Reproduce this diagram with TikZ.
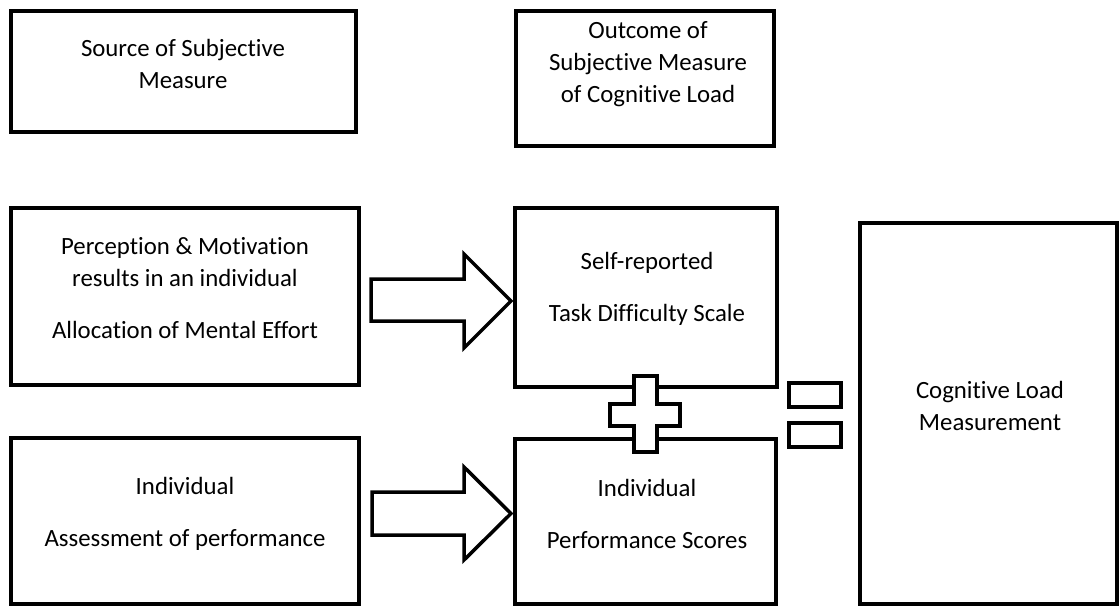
\documentclass[tikz,border=0pt]{standalone}
\usepackage{fontspec}
\setmainfont{Carlito}[Ligatures=NoCommon]
\begin{document}
\begin{tikzpicture}[x=1pt,y=-1pt,
  box/.style={draw=black,line width=3.5pt,fill=white,rectangle,inner sep=0pt,outer sep=0pt},
  label/.style={align=center,inner sep=0pt,font=\fontsize{24.8}{32}\selectfont},
  blockarrow/.style={draw=black,line width=3.5pt,fill=white,line join=miter}]
\useasboundingbox (0,0) rectangle (1119,608);

% boxes
\node[box,minimum width=345pt,minimum height=121pt] (src)   at (183.5,71.5) {};
\node[box,minimum width=258pt,minimum height=135pt] (out)   at (645,78.5) {};
\node[box,minimum width=348pt,minimum height=177pt] (perc)  at (185,296.5) {};
\node[box,minimum width=262pt,minimum height=179pt] (self)  at (646,297.5) {};
\node[box,minimum width=348pt,minimum height=166pt] (indiv) at (185,521) {};
\node[box,minimum width=261pt,minimum height=165pt] (perf)  at (645.5,521.5) {};
\node[box,minimum width=257pt,minimum height=381pt] (cog)   at (988.5,413.5) {};

% texts
\node[label] (srcT)   at (183,63.5) {Source of Subjective\\Measure};
\node[label] (outT)   at (648,64) {Outcome of\\Subjective Measure\\of Cognitive Load};
\node[label] (percT)  at (185,288.5) {Perception \& Motivation\\results in an individual\\[20pt]Allocation of Mental Effort};
\node[label] (selfT)  at (647,289) {Self-reported\\[20pt]Task Difficulty Scale};
\node[label] (indivT) at (185,514) {Individual\\[20pt]Assessment of performance};
\node[label] (perfT)  at (647,514) {Individual\\[20pt]Performance Scores};
\node[label] (cogT)   at (990,406) {Cognitive Load\\Measurement};

% block arrows
\draw[blockarrow] (371,279) -- (464,279) -- (464,254) -- (511,301) -- (464,348) -- (464,321) -- (371,321) -- cycle;
\draw[blockarrow] (372,492) -- (464,492) -- (464,467) -- (511,513.5) -- (464,560) -- (464,535) -- (372,535) -- cycle;

% plus sign
\draw[blockarrow] (634,376) -- (657,376) -- (657,404) -- (680,404) -- (680,426) -- (657,426) -- (657,452)
  -- (634,452) -- (634,426) -- (610,426) -- (610,404) -- (634,404) -- cycle;

% equals sign
\draw[blockarrow] (789,383) rectangle (841,407);
\draw[blockarrow] (789,423) rectangle (841,447);
\end{tikzpicture}
\end{document}
